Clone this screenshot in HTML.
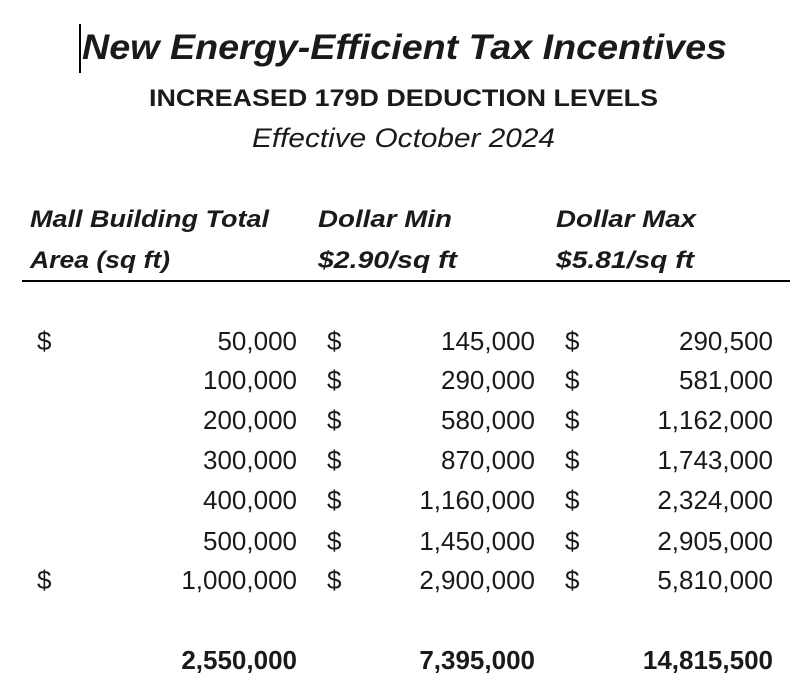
<!DOCTYPE html>
<html><head><meta charset="utf-8"><style>
html,body{margin:0;padding:0;background:#fff;}
svg{display:block;}
text{font-family:"Liberation Sans",sans-serif;fill:#1a1a1a;}
.h{font-weight:bold;font-style:italic;font-size:24px;}
.n{font-size:26px;}
.b{font-size:26px;font-weight:bold;}
</style></head><body>
<svg width="801" height="700" viewBox="0 0 801 700" xmlns="http://www.w3.org/2000/svg">
<rect width="801" height="700" fill="#fff"/>
<line x1="80" y1="24" x2="80" y2="73" stroke="#000" stroke-width="2"/>
<text x="82" y="59" font-size="35" font-weight="bold" font-style="italic" textLength="645" lengthAdjust="spacingAndGlyphs">New Energy-Efficient Tax Incentives</text>
<text x="149" y="106" font-size="24" font-weight="bold" textLength="509" lengthAdjust="spacingAndGlyphs">INCREASED 179D DEDUCTION LEVELS</text>
<text x="252" y="147" font-size="27" font-style="italic" textLength="303" lengthAdjust="spacingAndGlyphs">Effective October 2024</text>

<text class="h" x="30" y="227" textLength="239" lengthAdjust="spacingAndGlyphs">Mall Building Total</text>
<text class="h" x="30" y="268" textLength="140" lengthAdjust="spacingAndGlyphs">Area (sq ft)</text>
<text class="h" x="318" y="227" textLength="134" lengthAdjust="spacingAndGlyphs">Dollar Min</text>
<text class="h" x="318" y="268" textLength="139" lengthAdjust="spacingAndGlyphs">$2.90/sq ft</text>
<text class="h" x="556" y="227" textLength="140" lengthAdjust="spacingAndGlyphs">Dollar Max</text>
<text class="h" x="556" y="268" textLength="138" lengthAdjust="spacingAndGlyphs">$5.81/sq ft</text>
<line x1="22" y1="281" x2="790" y2="281" stroke="#000" stroke-width="2"/>

<g class="n">
<text class="n" x="37" y="350">$</text>
<text class="n" x="37" y="589">$</text>
<text class="n" x="327" y="350">$</text><text class="n" x="327" y="389">$</text><text class="n" x="327" y="429">$</text><text class="n" x="327" y="469">$</text><text class="n" x="327" y="509">$</text><text class="n" x="327" y="550">$</text><text class="n" x="327" y="589">$</text>
<text class="n" x="565" y="350">$</text><text class="n" x="565" y="389">$</text><text class="n" x="565" y="429">$</text><text class="n" x="565" y="469">$</text><text class="n" x="565" y="509">$</text><text class="n" x="565" y="550">$</text><text class="n" x="565" y="589">$</text>
</g>
<g text-anchor="end">
<text class="n" x="297" y="350">50,000</text>
<text class="n" x="297" y="389">100,000</text>
<text class="n" x="297" y="429">200,000</text>
<text class="n" x="297" y="469">300,000</text>
<text class="n" x="297" y="509">400,000</text>
<text class="n" x="297" y="550">500,000</text>
<text class="n" x="297" y="589">1,000,000</text>
<text class="n" x="535" y="350">145,000</text>
<text class="n" x="535" y="389">290,000</text>
<text class="n" x="535" y="429">580,000</text>
<text class="n" x="535" y="469">870,000</text>
<text class="n" x="535" y="509">1,160,000</text>
<text class="n" x="535" y="550">1,450,000</text>
<text class="n" x="535" y="589">2,900,000</text>
<text class="n" x="773" y="350">290,500</text>
<text class="n" x="773" y="389">581,000</text>
<text class="n" x="773" y="429">1,162,000</text>
<text class="n" x="773" y="469">1,743,000</text>
<text class="n" x="773" y="509">2,324,000</text>
<text class="n" x="773" y="550">2,905,000</text>
<text class="n" x="773" y="589">5,810,000</text>
<text class="b" x="297" y="669">2,550,000</text>
<text class="b" x="535" y="669">7,395,000</text>
<text class="b" x="773" y="669">14,815,500</text>
</g>
</svg>
</body></html>
